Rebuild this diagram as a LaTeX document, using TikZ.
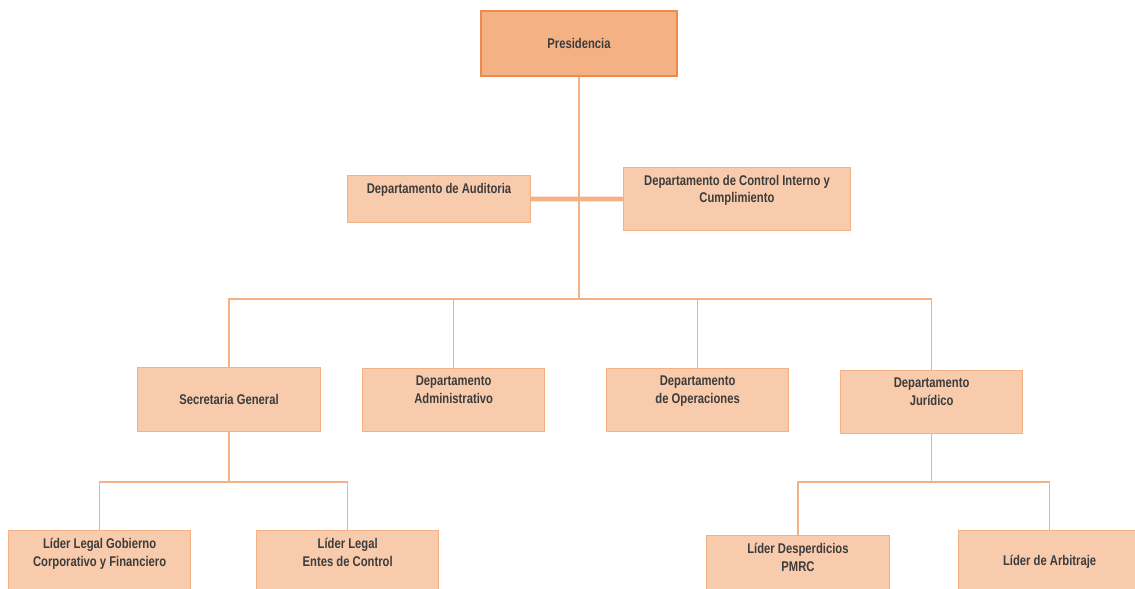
\documentclass[tikz,border=0pt]{standalone}
\usepackage{fontspec}
\setmainfont{Liberation Sans}[FakeStretch=0.8]
\usepackage{xcolor}
\usetikzlibrary{positioning}

\definecolor{CajaOsc}{HTML}{F4B183}
\definecolor{BordeOsc}{HTML}{EE8A4E}
\definecolor{Caja}{HTML}{F8CBAD}
\definecolor{Linea}{HTML}{F4B183}
\definecolor{Texto}{HTML}{3C3C3C}

\begin{document}
\begin{tikzpicture}[x=0.03cm,y=-0.03cm]
  \tikzstyle{ann} = [draw=CajaOsc,fill=Caja,line width=0.8pt,anchor=north west,minimum width=5.47cm,minimum height=1.89cm,inner sep=0pt,
                     font=\bfseries\fontsize{12}{15.3}\selectfont,text=Texto,align=center]
  \tikzstyle{txt} = [anchor=north,yshift=-6.5pt,inner sep=0pt,font=\bfseries\fontsize{12}{15.3}\selectfont,text=Texto,align=center]
  \tikzstyle{con} = [draw=Linea,line width=1.3pt]
  \useasboundingbox (0,0) rectangle (1135,589);
  \clip (0,0) rectangle (1135,589);

  % cabeza
  \node[ann,fill=CajaOsc,draw=BordeOsc,line width=1.6pt,minimum width=5.88cm,minimum height=1.95cm] (Pres) at (480,10) {Presidencia};

  % staff
  \node[ann,minimum width=5.49cm,minimum height=1.41cm,label={[txt]north:Departamento de Auditoria}] (DAud) at (347,175) {};
  \node[ann,minimum width=6.81cm,label={[txt]north:Departamento de Control Interno y\\Cumplimiento}] (DCtrl) at (623,167) {};

  % departamentos
  \node[ann,minimum width=5.49cm,minimum height=1.92cm] (DSec) at (137,367) {Secretaria General};
  \node[ann,label={[txt]north:Departamento\\Administrativo}] (DAdm) at (362,368) {};
  \node[ann,label={[txt]north:Departamento\\de Operaciones}] (DOpe) at (606,368) {};
  \node[ann,label={[txt]north:Departamento\\Jurídico}] (DJur) at (840,370) {};

  % lideres
  \node[ann,minimum height=1.95cm,label={[txt]north:Líder Legal Gobierno\\Corporativo y Financiero}] (LGob) at (8,530) {};
  \node[ann,minimum height=1.95cm,label={[txt]north:Líder Legal\\Entes de Control}] (LEnt) at (256,530) {};
  \node[ann,minimum width=5.49cm,minimum height=1.95cm,label={[txt]north:Líder Desperdicios\\PMRC}] (LDes) at (706,535) {};
  \node[ann,minimum height=1.86cm] (LArb) at (958,530) {Líder de Arbitraje};

  % conectores
  \draw[con] (Pres.south) -- ++(0,222) coordinate (B1);
  \draw[con,line width=4pt] (DAud.east) -- (DCtrl.west);
  \draw[con] (DSec.north) |- (B1) -| (DJur.north);
  \draw[con] (DAdm.north) -- (DAdm.north |- B1);
  \draw[con] (DOpe.north) -- (DOpe.north |- B1);

  \draw[con] (DSec.south) -- ++(0,50) coordinate (B2);
  \draw[con] (LGob.north) |- (B2) -| (LEnt.north);
  \draw[con] (DJur.south) -- ++(0,48) coordinate (B3);
  \draw[con] (LDes.north) |- (B3) -| (LArb.north);
\end{tikzpicture}
\end{document}
